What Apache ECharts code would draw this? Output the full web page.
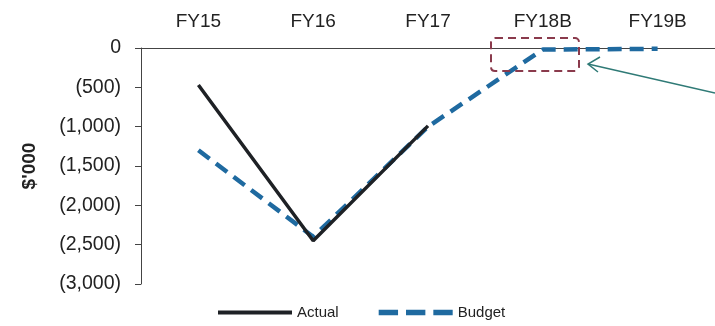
<!DOCTYPE html>
<html><head><meta charset="utf-8">
<script src="https://cdn.jsdelivr.net/npm/echarts@6/dist/echarts.min.js"></script>
<style>html,body{margin:0;padding:0;background:#fff;}#c{width:715px;height:326px;}</style>
</head><body><div id="c"></div>
<script>
var categories = ['FY15', 'FY16', 'FY17', 'FY18B', 'FY19B'];
var actual = [-470, -2450, -990, null, null];
var budget = [-1300, -2400, -1000, -20, -10];
var yTicks = { min: -3000, max: 0, step: 500 };

var chart = echarts.init(document.getElementById('c'));
var font = 'Liberation Sans, Arial, sans-serif';
chart.setOption({
  animation: false,
  textStyle: { fontFamily: font },
  grid: { left: 141, top: 48, width: 587, height: 236 },
  legend: {
    bottom: 1, left: 213, itemGap: 40, itemWidth: 74, itemHeight: 10, itemGap: 40,
    textStyle: { fontSize: 15, color: '#222', fontFamily: font },
    data: [
      { name: 'Actual', icon: 'path://M0,0 L72,0 L72,4 L0,4 Z', itemStyle: { color: '#1e2125' } },
      { name: 'Budget', icon: 'path://M0,0 L17,0 L17,5 L0,5 Z M24,0 L41,0 L41,5 L24,5 Z M48,0 L65,0 L65,5 L48,5 Z', itemStyle: { color: '#1f6aa0' } }
    ]
  },
  xAxis: {
    type: 'category', data: categories, position: 'top', boundaryGap: true,
    axisLine: { lineStyle: { color: '#444', width: 1 } },
    axisTick: { inside: true, length: 3, lineStyle: { color: '#444' } },
    axisLabel: { color: '#222', fontSize: 19, margin: 17, fontFamily: font }
  },
  yAxis: {
    type: 'value', min: yTicks.min, max: yTicks.max, interval: yTicks.step,
    name: "$'000", nameLocation: 'middle', nameGap: 102, nameRotate: 90,
    nameTextStyle: { fontWeight: 'bold', fontSize: 19, color: '#222', fontFamily: font },
    axisLine: { show: true, lineStyle: { color: '#444', width: 1 } },
    axisTick: { show: true, length: 6, lineStyle: { color: '#444' } },
    splitLine: { show: false },
    axisLabel: {
      color: '#222', fontSize: 19.5, margin: 20, fontFamily: font,
      formatter: function (v) {
        if (v === 0) return '0';
        return '(' + Math.abs(v).toLocaleString('en-US') + ')';
      }
    }
  },
  series: [
    {
      name: 'Budget', type: 'line', data: budget, symbol: 'none', z: 2,
      lineStyle: { color: '#1f6aa0', width: 4.5, type: [14, 8] },
      itemStyle: { color: '#1f6aa0' }
    },
    {
      name: 'Actual', type: 'line', data: actual, symbol: 'none', z: 3,
      lineStyle: { color: '#1e2125', width: 3.5 },
      itemStyle: { color: '#1e2125' }
    }
  ],
  graphic: [
    {
      type: 'rect', shape: { x: 491, y: 38, width: 88, height: 33, r: 4 },
      style: { fill: 'none', stroke: '#8a3a4c', lineWidth: 2, lineDash: [8, 5] }, z: 10
    },
    {
      type: 'polyline', shape: { points: [[715, 93], [588, 64]] },
      style: { stroke: '#2f7a76', lineWidth: 1.5, fill: 'none' }, z: 10
    },
    {
      type: 'polyline', shape: { points: [[600, 57], [588, 64], [598, 72]] },
      style: { stroke: '#2f7a76', lineWidth: 1.5, fill: 'none' }, z: 10
    }
  ]
});
</script></body></html>
